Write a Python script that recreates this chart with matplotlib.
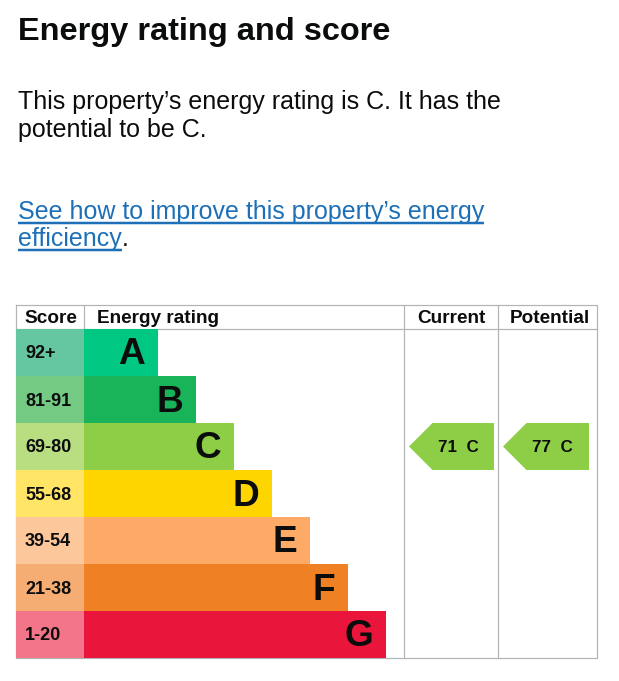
import matplotlib
matplotlib.use("Agg")
import matplotlib.pyplot as plt
from matplotlib.patches import Polygon

plt.rcParams['font.family'] = ['Liberation Sans', 'DejaVu Sans']

# chart data
bands = ['A', 'B', 'C', 'D', 'E', 'F', 'G']
score_ranges = ['92+', '81-91', '69-80', '55-68', '39-54', '21-38', '1-20']
bar_colors = ['#00c781', '#19b459', '#8dce46', '#ffd500', '#fcaa65', '#ef8023', '#e9153b']
score_colors = ['#64c7a0', '#74c983', '#b9dd81', '#ffe466', '#fdc79c', '#f5ad74', '#f2758a']
current_score, current_band = 71, 'C'
potential_score, potential_band = 77, 'C'

title = "Energy rating and score"
summary = ["This property\u2019s energy rating is C. It has the", "potential to be C."]
link_lines = ["See how to improve this property\u2019s energy", "efficiency"]
headers = ['Score', 'Energy rating', 'Current', 'Potential']

PT = 0.72  # px -> pt at 100 dpi
W, H = 619, 681
fig = plt.figure(figsize=(W / 100, H / 100), dpi=100)
ax = fig.add_axes([0, 0, 1, 1])
ax.set_xlim(0, W)
ax.set_ylim(H, 0)
ax.axis('off')

ax.text(18, 40, title, fontsize=32.5 * PT, fontweight='bold', va='baseline', color='#0b0c0c')
for i, line in enumerate(summary):
    ax.text(18, 109 + 28 * i, line, fontsize=25 * PT, va='baseline', color='#0b0c0c')

fig.canvas.draw()
renderer = fig.canvas.get_renderer()
inv = ax.transData.inverted()
link_col = '#1d70b8'
for i, line in enumerate(link_lines):
    y = 219 + 27 * i
    t = ax.text(18, y, line, fontsize=25 * PT, va='baseline', color=link_col)
    bb = t.get_window_extent(renderer)
    x0 = inv.transform((bb.x0, 0))[0]
    x1 = inv.transform((bb.x1, 0))[0]
    ax.plot([x0, x1], [y + 4, y + 4], color=link_col, lw=2.5 * PT, solid_capstyle='butt')
    if i == len(link_lines) - 1:
        ax.text(x1, y, '.', fontsize=25 * PT, va='baseline', color='#0b0c0c')

# table
left, right = 16, 597
col_x = [16, 84, 404, 498, 597]
top, head_h, row_h = 305, 24, 47
rows_top = top + head_h
bottom = rows_top + row_h * len(bands)
grid = '#b1b4b6'
lw = 1.2 * PT
ax.plot([left, right, right, left, left], [top, top, bottom, bottom, top], color=grid, lw=lw, zorder=0.5)
ax.plot([left, right], [rows_top, rows_top], color=grid, lw=lw, zorder=0.5)
for x in col_x[1:4]:
    y1 = rows_top if x == col_x[1] else bottom
    ax.plot([x, x], [top, y1], color=grid, lw=lw, zorder=0.5)

hx = [24, 97, 451, 550]
ha = ['left', 'left', 'center', 'center']
for h, x, a in zip(headers, hx, ha):
    ax.text(x, 323, h, fontsize=19 * PT, fontweight='bold', ha=a, va='baseline', color='#0b0c0c')

centers = [rows_top + row_h * (i + 0.5) for i in range(len(bands))]
widths = [74 + 38 * i for i in range(len(bands))]
ax.barh(centers, [col_x[1] - left] * len(bands), left=left, height=row_h, color=score_colors)
ax.barh(centers, widths, left=col_x[1], height=row_h, color=bar_colors)
for i, b in enumerate(bands):
    ax.text(col_x[1] + widths[i] - 13, centers[i] + 12, b, fontsize=37 * PT, fontweight='bold',
            ha='right', va='baseline', color='#0b0c0c')
    ax.text(25, centers[i] + 6, score_ranges[i], fontsize=18 * PT, fontweight='bold',
            ha='left', va='baseline', color='#0b0c0c')


def arrow(xl, xr, score, band):
    i = bands.index(band)
    yc = centers[i]
    h = row_h / 2
    pts = [(xl, yc), (xl + h, yc - h), (xr, yc - h), (xr, yc + h), (xl + h, yc + h)]
    ax.add_patch(Polygon(pts, closed=True, color=bar_colors[i], lw=0))
    ax.text(xl + 49, yc + 6, f"{score}  {band}", fontsize=17 * PT,
            fontweight='bold', ha='center', va='baseline', color='#0b0c0c')


arrow(409, 494, current_score, current_band)
arrow(503, 589, potential_score, potential_band)

fig.savefig('out.png', dpi=100)
